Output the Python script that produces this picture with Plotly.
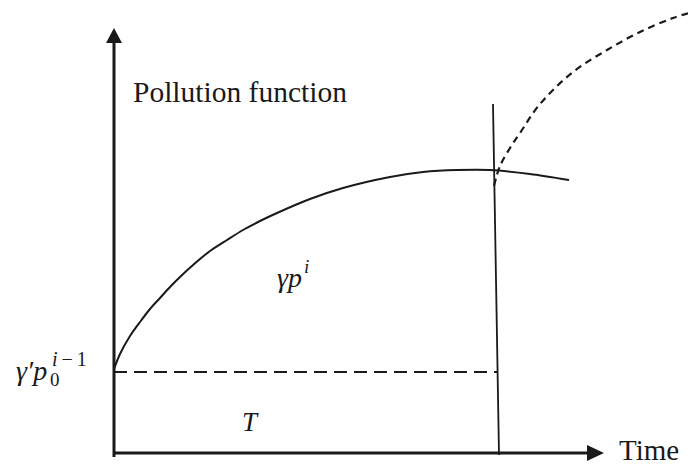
import plotly.graph_objects as go

# Pollution curve (diagram coordinates, y grows downward)
curve_x = [114, 120, 130, 140, 150, 160, 170, 180, 193, 210, 227, 243, 260, 277, 310, 343, 390, 423, 457, 490, 530, 569]
curve_y = [369, 354, 336, 322, 309, 298, 287, 277, 265, 251, 240, 230, 221, 213, 199, 188, 177, 172, 170, 170, 174, 180]

# Dashed continuation curve
dash_x = [494, 500, 510, 520, 540, 573, 607, 640, 673, 696]
dash_y = [186, 166, 148, 133, 104, 72, 50, 32, 18, 11]

# Baseline (dashed horizontal) level
base_x = [114, 498]
base_y = [372, 372]

# Vertical line at time T
vline_x = [493, 499]
vline_y = [104, 455]

# Axes
yaxis_x = [114, 114]
yaxis_y = [457, 42]
xaxis_x = [114, 589]
xaxis_y = [453, 453]

fig = go.Figure()
col = "#1a1a1a"
fig.add_trace(go.Scatter(x=curve_x, y=curve_y, mode="lines", line=dict(color=col, width=2, shape="spline", smoothing=0.8), hoverinfo="skip"))
fig.add_trace(go.Scatter(x=dash_x, y=dash_y, mode="lines", line=dict(color=col, width=2.2, dash="7px,5px", shape="spline"), hoverinfo="skip"))
fig.add_trace(go.Scatter(x=base_x, y=base_y, mode="lines", line=dict(color=col, width=1.8, dash="13px,7px"), hoverinfo="skip"))
fig.add_trace(go.Scatter(x=vline_x, y=vline_y, mode="lines", line=dict(color=col, width=1.8), hoverinfo="skip"))
fig.add_trace(go.Scatter(x=yaxis_x, y=yaxis_y, mode="lines", line=dict(color=col, width=3), hoverinfo="skip"))
fig.add_trace(go.Scatter(x=xaxis_x, y=xaxis_y, mode="lines", line=dict(color=col, width=3), hoverinfo="skip"))

# Arrow heads
fig.add_shape(type="path", path="M 106 43 L 122 43 L 114 28 Z", fillcolor=col, line=dict(width=0))
fig.add_shape(type="path", path="M 587 445 L 587 461 L 604 453 Z", fillcolor=col, line=dict(width=0))

serif = "Times New Roman, Liberation Serif, DejaVu Serif, serif"

def txt(x, y, s, size, xa="left", ya="middle"):
    fig.add_annotation(x=x, y=y, text=s, showarrow=False, xanchor=xa, yanchor=ya,
                       font=dict(family=serif, size=size, color=col))

txt(131, 92, "Pollution function", 29.5)
txt(617, 450, "Time", 29)
txt(275, 277, "<i>γp</i>", 28)
txt(302, 266, "<i>i</i>", 19)
txt(240, 422, "<i>T</i>", 27)
txt(14, 370, "<i>γ′p</i>", 28)
txt(48, 379, "0", 19)
txt(50, 359, "<i>i</i>\u2009−\u20091", 20)

# page body has an 8px margin; figure sized to fit and ranges offset so units = page pixels
fig.update_layout(
    width=688, height=456,
    margin=dict(l=0, r=0, t=0, b=0),
    paper_bgcolor="white", plot_bgcolor="white",
    showlegend=False,
    xaxis=dict(range=[8, 696], visible=False, fixedrange=True),
    yaxis=dict(range=[464, 8], visible=False, fixedrange=True),
)

fig.write_html("out.html")
